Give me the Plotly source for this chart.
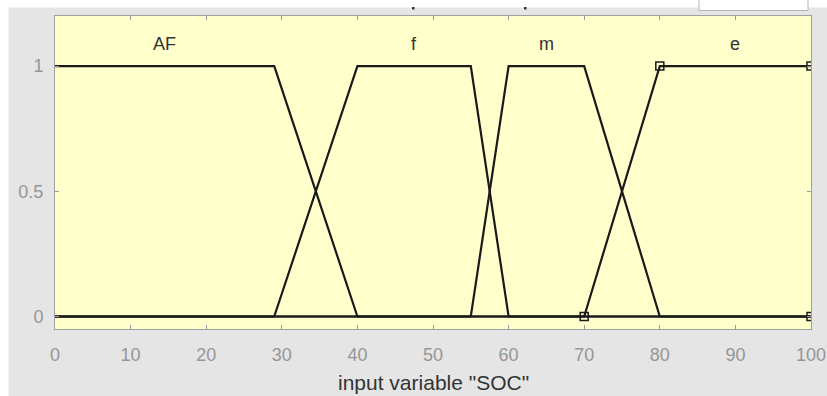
import plotly.graph_objects as go

# ---- data ----
mf_names = ["AF", "f", "m", "e"]
mf_a = [0, 29, 55, 70]
mf_b = [0, 40, 60, 80]
mf_c = [29, 55, 70, 100]
mf_d = [40, 60, 80, 100]
x_min, x_max = 0, 100
x_ticks = [0, 10, 20, 30, 40, 50, 60, 70, 80, 90, 100]
y_ticks = [0, 0.5, 1]
y_ticktext = ["0", "0.5", "1"]
selected_mf = "e"
x_label = 'input variable "SOC"'

# ---- geometry of the reference (pixels) ----
W, H = 827, 396
L, R, T, B = 55, 811, 16, 329
pw, ph = R - L, B - T

def px_x(p):
    return (p - L) / pw

def px_y(p):
    return (B - p) / ph

def trapmf(x, a, b, c, d):
    if x < a or x > d:
        return 0.0
    if b <= x <= c:
        return 1.0
    if x < b:
        return (x - a) / (b - a) if b > a else 1.0
    return (d - x) / (d - c) if d > c else 1.0

FONT = "Liberation Sans, Arial"
fig = go.Figure()
line_col = "#1a1a1a"
for name, a, b, c, d in zip(mf_names, mf_a, mf_b, mf_c, mf_d):
    xs = sorted(set([x_min, a, b, c, d, x_max]))
    xs = [v for v in xs if x_min <= v <= x_max]
    ys = []
    for v in xs:
        if v == a and a == b:
            ys.append(1.0)
        elif v == d and d == c:
            ys.append(1.0)
        else:
            ys.append(trapmf(v, a, b, c, d))
    fig.add_trace(go.Scatter(x=xs, y=ys, mode="lines",
                             line=dict(color=line_col, width=2.2),
                             showlegend=False, hoverinfo="skip"))
    if name == selected_mf:
        fig.add_trace(go.Scatter(x=[a, b, c, d], y=[0, 1, 1, 0], mode="markers",
                                 marker=dict(symbol="square-open", size=8,
                                             color=line_col, line=dict(width=1.5)),
                                 showlegend=False, hoverinfo="skip"))
    fig.add_annotation(x=(b + c) / 2, y=1.09, text=name, showarrow=False,
                       font=dict(family=FONT, size=18, color="#333333"),
                       xanchor="center", yanchor="middle")

fig.add_annotation(xref="paper", yref="paper", x=0.5, y=px_y(382), text=x_label,
                   showarrow=False, xanchor="center", yanchor="middle",
                   font=dict(family=FONT, size=21, color="#333333"))

shapes = [
    dict(type="rect", xref="paper", yref="paper", x0=px_x(0), x1=px_x(W),
         y0=px_y(7.5), y1=px_y(0), fillcolor="white", line=dict(width=0), layer="above"),
    dict(type="rect", xref="paper", yref="paper", x0=px_x(0), x1=px_x(8.5),
         y0=px_y(H), y1=px_y(0), fillcolor="white", line=dict(width=0), layer="above"),
    dict(type="rect", xref="paper", yref="paper", x0=px_x(699), x1=px_x(808),
         y0=px_y(10.5), y1=px_y(-2), fillcolor="white",
         line=dict(width=1, color="#b4b4bc"), layer="above"),
    dict(type="rect", xref="paper", yref="paper", x0=px_x(412), x1=px_x(414.5),
         y0=px_y(9.5), y1=px_y(7), fillcolor="#333333", line=dict(width=0), layer="above"),
    dict(type="rect", xref="paper", yref="paper", x0=px_x(524), x1=px_x(526.5),
         y0=px_y(9.5), y1=px_y(7), fillcolor="#333333", line=dict(width=0), layer="above"),
]

axis_font = dict(family=FONT, size=18, color="#969696")
fig.update_layout(
    width=W, height=H,
    margin=dict(l=L, r=W - R, t=T, b=H - B, pad=0),
    paper_bgcolor="#e5e5e5",
    plot_bgcolor="#ffffcc",
    shapes=shapes,
    xaxis=dict(range=[x_min, x_max], tickvals=x_ticks, ticks="inside", ticklen=4,
               tickcolor="#9a9a9a", showgrid=False, zeroline=False, automargin=False,
               showline=True, linecolor="#a0a0a0", linewidth=1, mirror="ticks",
               tickfont=axis_font, ticklabelstandoff=9, fixedrange=True),
    yaxis=dict(range=[-0.05, 1.2], tickvals=y_ticks, ticktext=y_ticktext,
               ticks="inside", ticklen=4, tickcolor="#9a9a9a", showgrid=False,
               zeroline=False, showline=True, linecolor="#a0a0a0", linewidth=1,
               automargin=False,
               mirror="ticks", tickfont=axis_font, ticklabelstandoff=7, fixedrange=True),
)

fig.write_html("out.html")
